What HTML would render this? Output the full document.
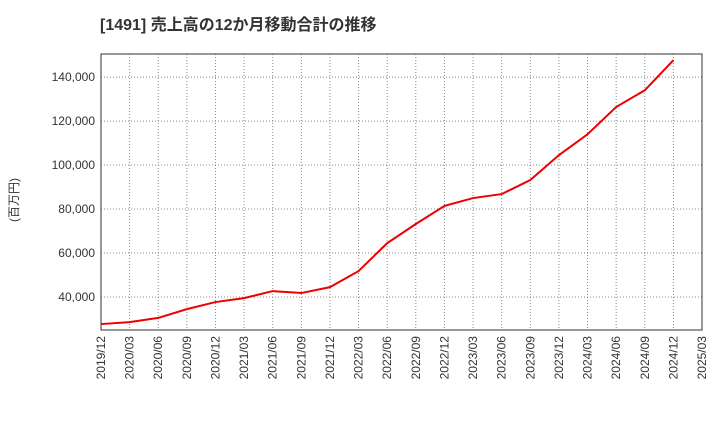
<!DOCTYPE html>
<html><head><meta charset="utf-8"><style>
body{margin:0;background:#fff;font-family:"Liberation Sans","Noto Sans CJK JP",sans-serif;}
</style></head><body>
<svg width="720" height="440" xmlns="http://www.w3.org/2000/svg">
<text x="100" y="30" font-size="16" font-weight="bold" fill="#333" font-family="Liberation Sans, Noto Sans CJK JP, sans-serif">[1491]  売上高の12か月移動合計の推移</text>
<text transform="translate(18,200) rotate(-90)" text-anchor="middle" font-size="12" fill="#333" font-family="Liberation Sans, Noto Sans CJK JP, sans-serif">(百万円)</text>
<g id="grid"></g><g id="axes"></g><g id="series"></g>
</svg>
<script>
const categories=["2019/12","2020/03","2020/06","2020/09","2020/12","2021/03","2021/06","2021/09","2021/12","2022/03","2022/06","2022/09","2022/12","2023/03","2023/06","2023/09","2023/12","2024/03","2024/06","2024/09","2024/12","2025/03"];
const salesValues=[27700,28600,30500,34500,37700,39500,42700,41800,44500,51800,64500,73200,81400,85000,86800,93200,104500,114000,126400,134000,147700];
const yTicks=[40000,60000,80000,100000,120000,140000];
const X0=101,X1=702,Y0=54,Y1=330,VMIN=25000,VMAX=150500;
const x=i=>X0+(X1-X0)*i/(categories.length-1);
const y=v=>Y1-(v-VMIN)/(VMAX-VMIN)*(Y1-Y0);
const NS="http://www.w3.org/2000/svg";
function mk(t,a,p){const e=document.createElementNS(NS,t);for(const k in a)e.setAttribute(k,a[k]);p.appendChild(e);return e;}
const grid=document.getElementById('grid'),axes=document.getElementById('axes'),ser=document.getElementById('series');
yTicks.forEach(v=>{
 const l=mk('line',{x1:X0,x2:X1,y1:y(v),y2:y(v),stroke:'#888','stroke-dasharray':'1,2'},grid);
 
 
 const t=mk('text',{x:X0-6,y:y(v)+4,'text-anchor':'end','font-size':'12',fill:'#333'},axes);
 t.textContent=v.toLocaleString('en-US');
 
 
});
categories.forEach((c,i)=>{
 if(i>0&&i<categories.length-1){
  const l=mk('line',{x1:x(i),x2:x(i),y1:Y0,y2:Y1,stroke:'#888','stroke-dasharray':'1,2'},grid);
  
  
 }
 const t=mk('text',{transform:`translate(${x(i)+4},${Y1+6}) rotate(-90)`,'text-anchor':'end','font-size':'12',fill:'#333'},axes);
 t.textContent=c;
 
 
});
const frame=mk('rect',{x:X0,y:Y0,width:X1-X0,height:Y1-Y0,fill:'none',stroke:'#333'},axes);


const line=mk('polyline',{points:salesValues.map((v,i)=>x(i)+','+y(v)).join(' '),fill:'none',stroke:'#e00','stroke-width':'2'},ser);


</script>
</body></html>
